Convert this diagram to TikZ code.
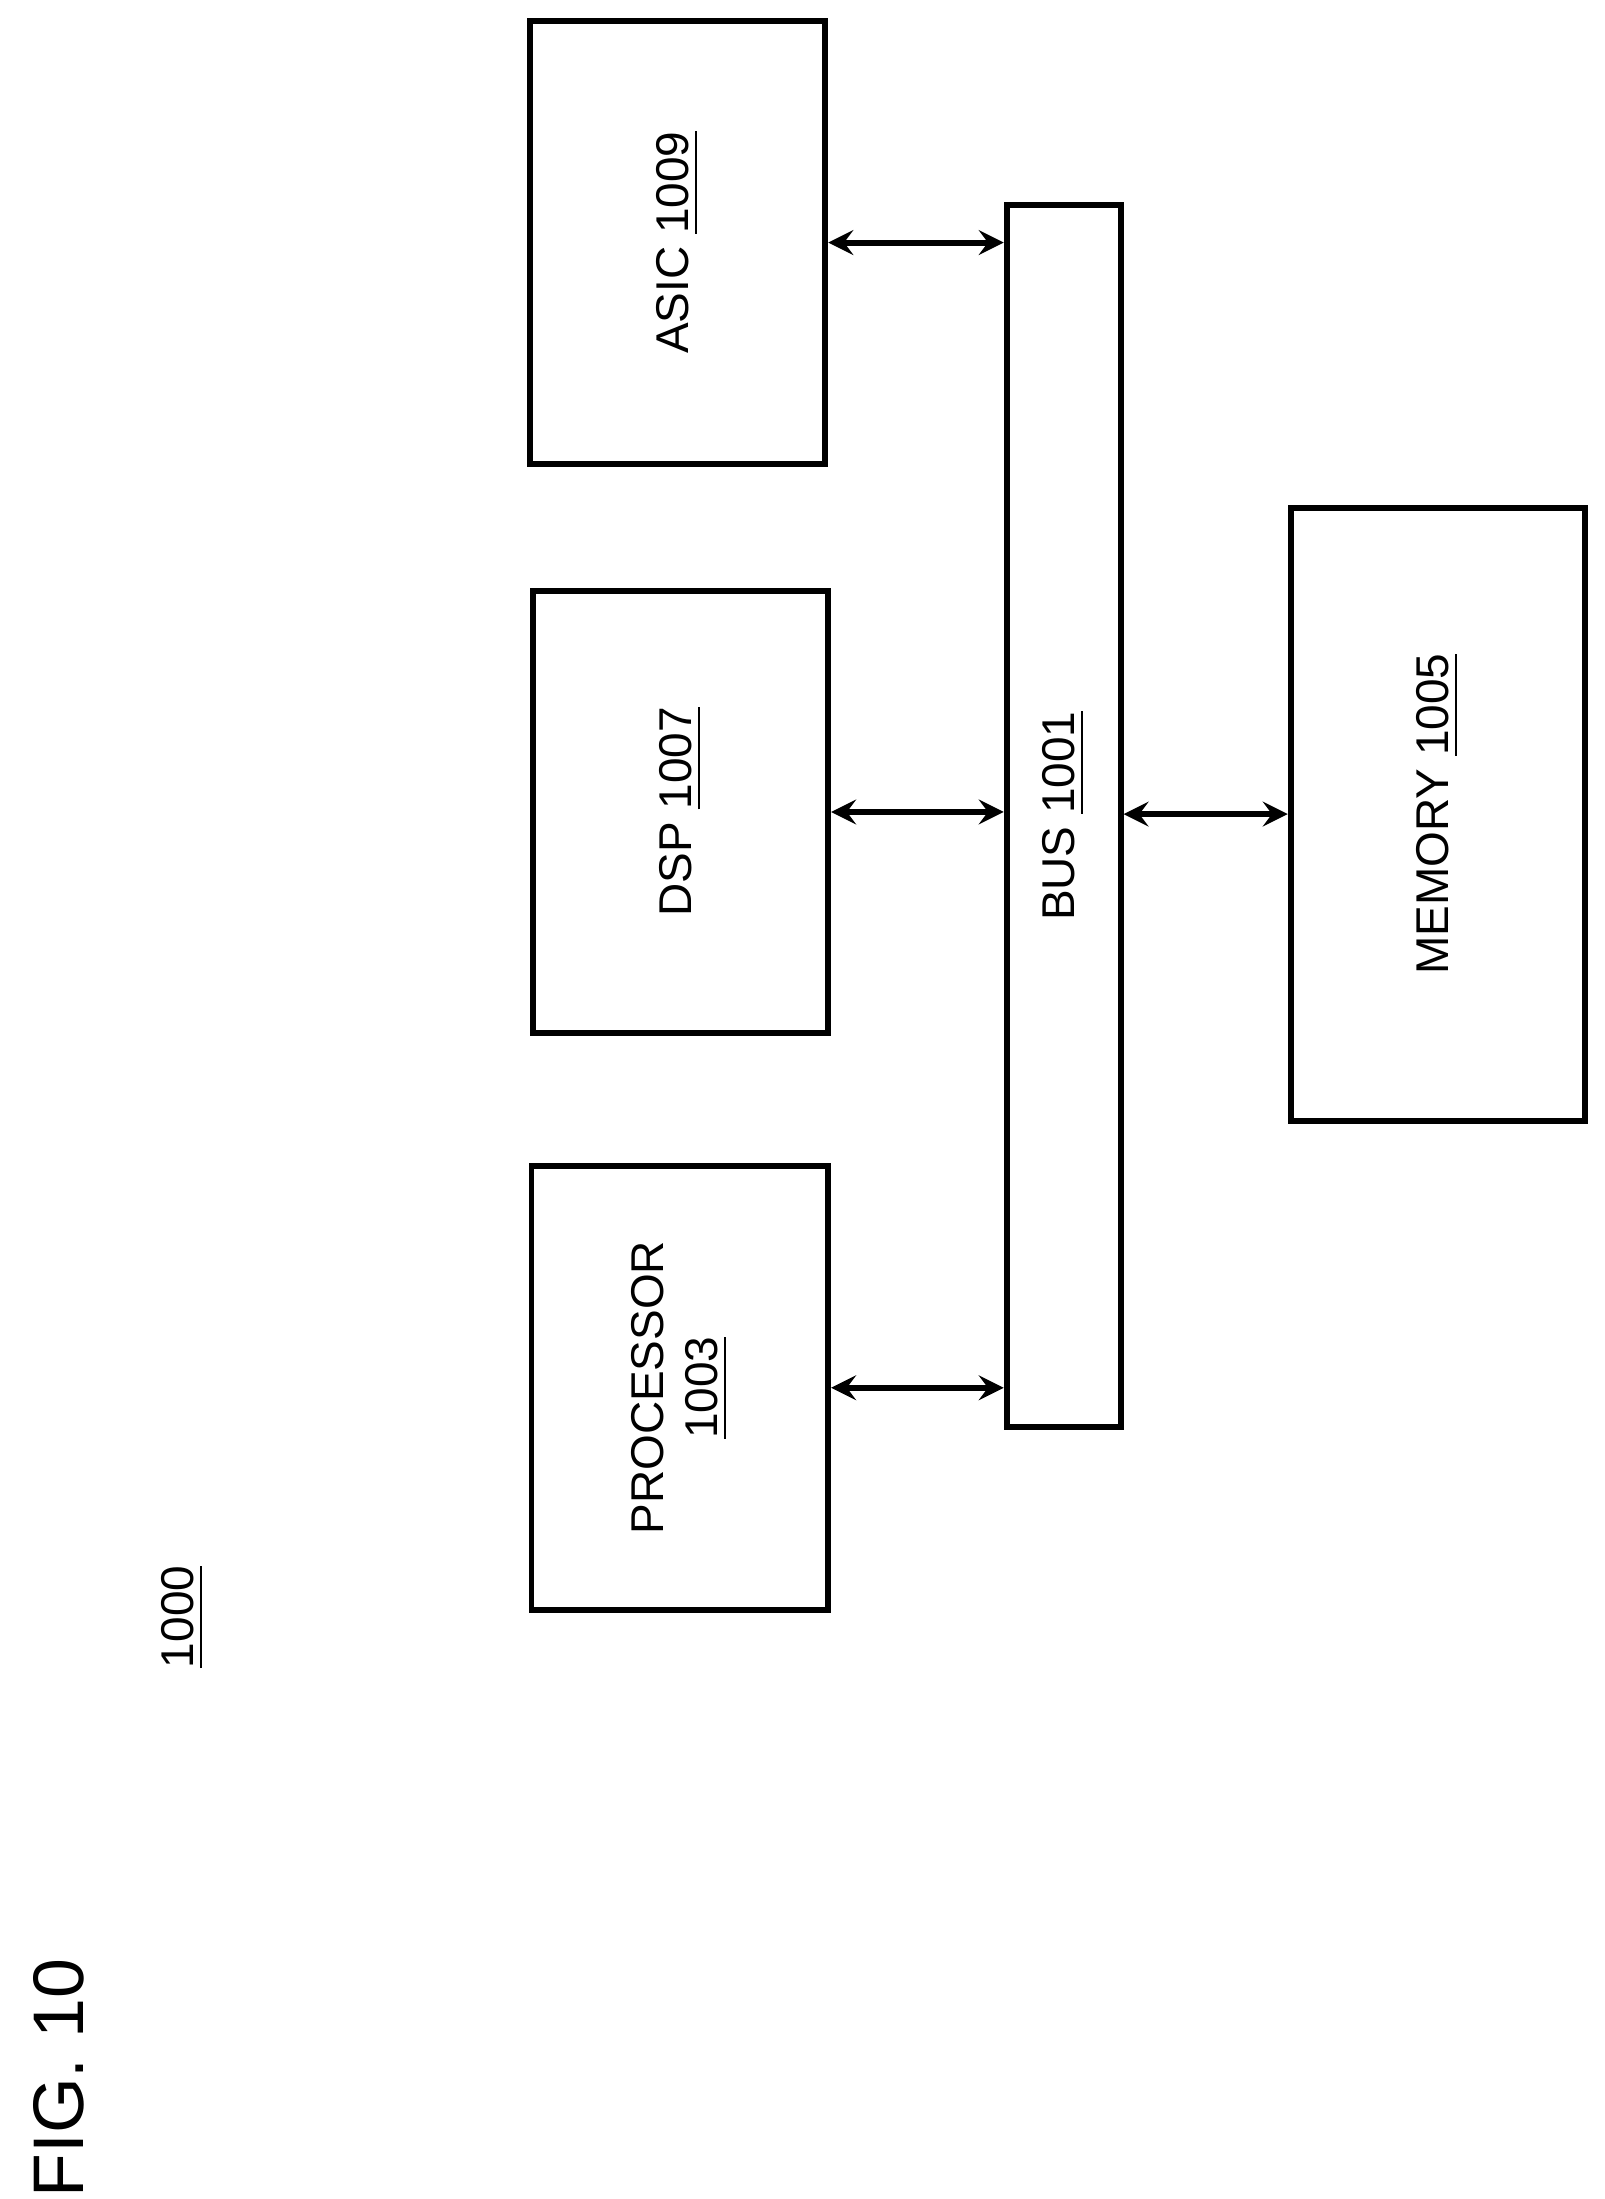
\documentclass[tikz,border=0pt]{standalone}
\usepackage{fontspec}
\setmainfont{Liberation Sans}
\usetikzlibrary{arrows}
\tikzstyle{block} = [draw,rectangle,line width=1.2pt,inner sep=0pt,font=\fontsize{9.3pt}{11pt}\selectfont,align=center]
\tikzstyle{arrowLine} = [draw,stealth-stealth,line width=1.2pt]

\begin{document}
\begin{tikzpicture}
		\useasboundingbox (0,0) rectangle (11.41,-15.64);
		\node[block,minimum width=2.10cm,minimum height=3.15cm] (asic) at (4.82,-1.725) {\rotatebox{90}{ASIC \underline{1009}}};
		\node[block,minimum width=2.10cm,minimum height=3.15cm] (dsp) at (4.84,-5.775) {\rotatebox{90}{DSP \underline{1007}}};
		\node[block,minimum width=2.11cm,minimum height=3.16cm] (processor) at (4.835,-9.87) {\rotatebox{90}{\begin{tabular}{c}PROCESSOR\\\underline{1003}\end{tabular}}};
		\node[block,minimum width=0.81cm,minimum height=8.69cm] (bus) at (7.565,-5.805) {\rotatebox{90}{BUS \underline{1001}}};
		\node[block,minimum width=2.09cm,minimum height=4.36cm] (memory) at (10.225,-5.79) {\rotatebox{90}{MEMORY \underline{1005}}};
		\node[font=\fontsize{9.3pt}{11pt}\selectfont] (ref) at (1.30,-11.50) {\rotatebox{90}{\underline{1000}}};
		\node[font=\fontsize{14.5pt}{17pt}\selectfont] (fig) at (0.42,-14.78) {\rotatebox{90}{FIG. 10}};
		%arrows
		\path[arrowLine] (asic.east) -- (asic.east -| bus.west);
		\path[arrowLine] (dsp.east) -- (dsp.east -| bus.west);
		\path[arrowLine] (processor.east) -- (processor.east -| bus.west);
		\path[arrowLine] (memory.west -| bus.east) -- (memory.west);
\end{tikzpicture}
\end{document}
